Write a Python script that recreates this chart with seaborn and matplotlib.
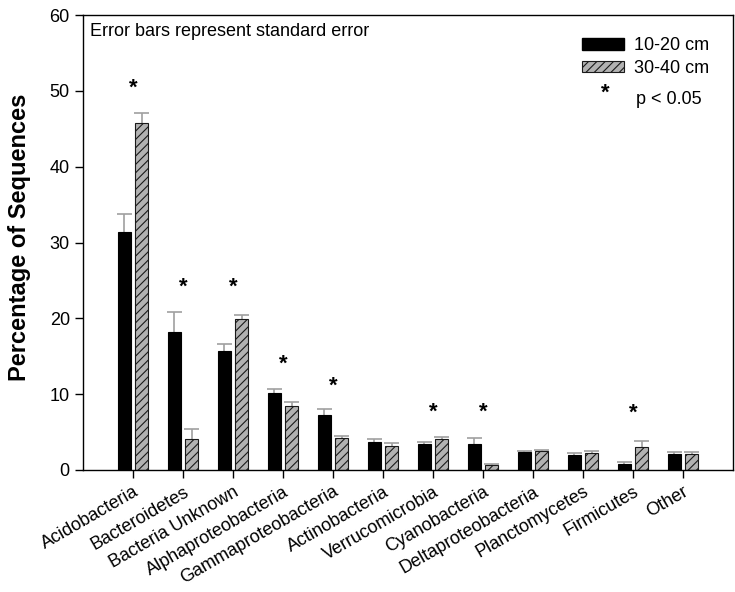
import matplotlib
matplotlib.use("Agg")
import matplotlib.pyplot as plt
import seaborn as sns
import pandas as pd
from matplotlib.patches import Patch

categories = ["Acidobacteria", "Bacteroidetes", "Bacteria Unknown", "Alphaproteobacteria",
              "Gammaproteobacteria", "Actinobacteria", "Verrucomicrobia", "Cyanobacteria",
              "Deltaproteobacteria", "Planctomycetes", "Firmicutes", "Other"]
depths = ["10-20 cm", "30-40 cm"]
shallow = [31.4, 18.2, 15.7, 10.2, 7.3, 3.65, 3.4, 3.4, 2.37, 1.98, 0.84, 2.07]
shallow_se = [2.4, 2.6, 0.9, 0.5, 0.8, 0.4, 0.25, 0.85, 0.1, 0.2, 0.16, 0.3]
deep = [45.8, 4.05, 19.9, 8.4, 4.2, 3.2, 4.05, 0.66, 2.55, 2.29, 3.03, 2.11]
deep_se = [1.3, 1.35, 0.5, 0.6, 0.3, 0.3, 0.3, 0.1, 0.15, 0.16, 0.75, 0.3]
sig_categories = ["Acidobacteria", "Bacteroidetes", "Bacteria Unknown", "Alphaproteobacteria",
                  "Gammaproteobacteria", "Verrucomicrobia", "Cyanobacteria", "Firmicutes"]
sig_heights = [50.3, 24.1, 24.1, 13.9, 11.1, 7.6, 7.6, 7.45]
y_ticks = [0, 10, 20, 30, 40, 50, 60]

sns.set_theme(style="ticks")
plt.rcParams["font.family"] = ["Liberation Sans", "DejaVu Sans"]
plt.rcParams["hatch.linewidth"] = 0.8
for key in ["text.color", "axes.labelcolor", "xtick.color", "ytick.color",
            "xtick.labelcolor", "ytick.labelcolor"]:
    plt.rcParams[key] = "black"

df = pd.DataFrame({
    "category": categories * 2,
    "depth": [depths[0]] * len(categories) + [depths[1]] * len(categories),
    "value": shallow + deep,
})

hatch_fill = "#b2b2b2"
fig = plt.figure(figsize=(7.35, 5.92), dpi=100)
ax = fig.add_axes([83 / 735, 1 - 470 / 592, 650 / 735, 455 / 592])

sns.barplot(data=df, x="category", y="value", hue="depth", order=categories,
            hue_order=depths, palette=["black", hatch_fill], width=0.7, gap=0.27,
            errorbar=None, ax=ax, saturation=1, edgecolor="black", linewidth=0.8,
            zorder=2)

for bar in ax.containers[1]:
    bar.set_hatch("////")
    bar.set_edgecolor("#1a1a1a")

ses = [shallow_se, deep_se]
err_color = "#a0a0a0"
for cont, se in zip(ax.containers, ses):
    for b, e in zip(cont, se):
        xc = b.get_x() + b.get_width() / 2
        h = b.get_height()
        ax.vlines(xc, h, h + e, color=err_color, linewidth=1.2, zorder=1)
        ax.hlines(h + e, xc - 0.15, xc + 0.15, color=err_color, linewidth=1.2, zorder=1)

for cat, h in zip(sig_categories, sig_heights):
    ax.text(categories.index(cat), h, "*", ha="center", va="center", fontsize=16,
            fontweight="bold", color="black")

ax.set_xlim(-1, 12)
ax.set_ylim(0, 60)
ax.set_yticks(y_ticks)
ax.tick_params(axis="both", labelsize=13, length=6, width=1, color="black",
               labelcolor="black")
ax.set_xticks(range(len(categories)))
ax.set_xticklabels(categories, rotation=30, ha="right", rotation_mode="anchor")
ax.set_xlabel("")
ax.set_ylabel("Percentage of Sequences", fontsize=17, fontweight="bold", color="black")
ax.yaxis.set_label_coords((31 - 83) / 650, 1 - (237 - 15) / 455)
for s in ax.spines.values():
    s.set_visible(True)
    s.set_linewidth(1)
    s.set_color("black")

ax.text(0.011, 0.982, "Error bars represent standard error", transform=ax.transAxes,
        ha="left", va="top", fontsize=13, color="black")

if ax.get_legend() is not None:
    ax.get_legend().remove()
handles = [Patch(facecolor="black", edgecolor="black"),
           Patch(facecolor=hatch_fill, edgecolor="#1a1a1a", hatch="////", linewidth=0.8)]
ax.legend(handles, depths, loc="upper left", bbox_to_anchor=(0.768, 0.951), frameon=False,
          fontsize=13, handlelength=2.3, handleheight=0.62, handletextpad=0.55,
          labelspacing=0.3, borderaxespad=0, borderpad=0, labelcolor="black")
fig.text(605 / 735, 1 - 93 / 592, "*", fontsize=16, fontweight="bold", ha="center",
         va="center", color="black")
fig.text(636 / 735, 1 - 99 / 592, "p < 0.05", fontsize=13, ha="left", va="center",
         color="black")

fig.savefig("out.png", dpi=100)
